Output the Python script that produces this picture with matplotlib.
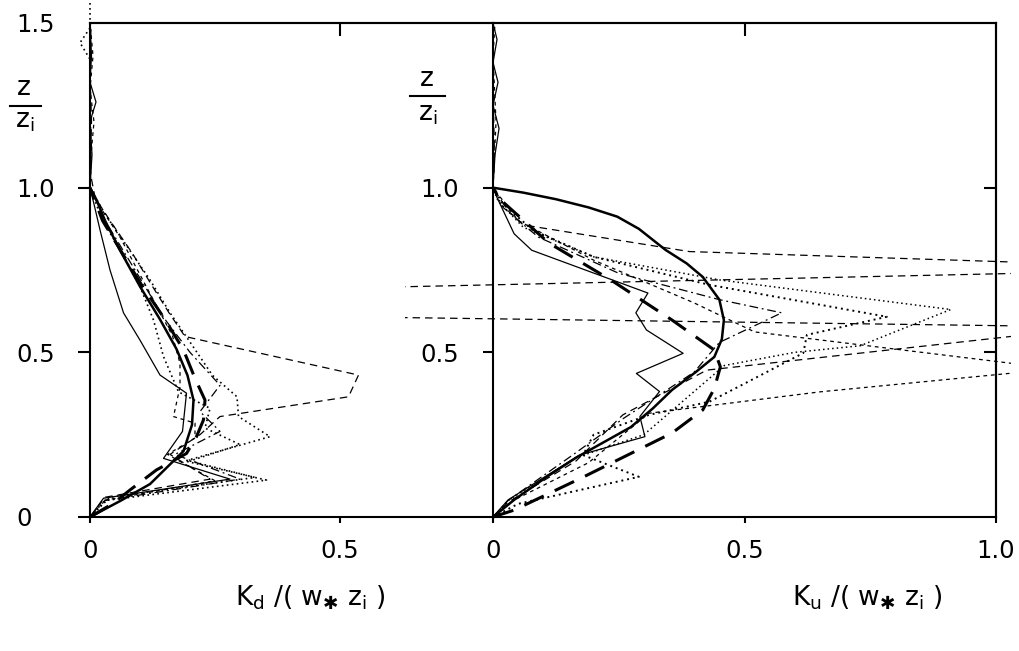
import matplotlib
matplotlib.use("Agg")
import matplotlib.pyplot as plt
from matplotlib.patches import Rectangle
from matplotlib.lines import Line2D

# ---- left panel: K_d / (w* z_i) profiles ----
kd_model_z = [0, 0.05, 0.1, 0.2, 0.28, 0.355, 0.43, 0.51, 0.6, 0.7, 0.81, 0.9, 0.963, 1.0]
kd_model_x = [0, 0.062, 0.12, 0.187, 0.204, 0.207, 0.195, 0.173, 0.14, 0.1, 0.06, 0.03, 0.013, 0]

kd_model2_z = [0, 0.042, 0.082, 0.143, 0.193, 0.244, 0.295, 0.355, 0.421, 0.507, 0.6, 0.7, 0.8, 0.9, 1.0]
kd_model2_x = [0, 0.047, 0.08, 0.133, 0.193, 0.213, 0.227, 0.23, 0.21, 0.187, 0.15, 0.105, 0.065, 0.025, 0]

kd_solid_z = [0, 0.057, 0.115, 0.178, 0.26, 0.376, 0.431, 0.537, 0.62, 0.75, 0.872, 0.95, 1.0, 1.1, 1.2, 1.26, 1.32, 1.4, 1.5]
kd_solid_x = [0, 0.027, 0.28, 0.147, 0.185, 0.193, 0.14, 0.1, 0.067, 0.04, 0.02, 0.008, 0, 0.004, 0, 0.012, 0, 0.003, 0]

kd_dash1_z = [0, 0.06, 0.115, 0.19, 0.25, 0.305, 0.365, 0.431, 0.548, 0.62, 0.7, 0.8, 0.9, 0.97, 1.05, 1.2, 1.35, 1.5]
kd_dash1_x = [0, 0.03, 0.24, 0.16, 0.22, 0.26, 0.517, 0.537, 0.19, 0.158, 0.125, 0.085, 0.04, 0.01, 0, 0.003, 0, 0.002]

kd_dash2_z = [0, 0.05, 0.11, 0.19, 0.24, 0.285, 0.305, 0.395, 0.467, 0.55, 0.65, 0.75, 0.85, 0.93, 1.0, 1.1, 1.2, 1.3, 1.4, 1.5]
kd_dash2_x = [0, 0.025, 0.25, 0.155, 0.21, 0.21, 0.167, 0.18, 0.18, 0.165, 0.13, 0.095, 0.06, 0.025, 0, 0.002, 0.008, 0, 0.006, 0]

kd_dot1_z = [0, 0.05, 0.112, 0.17, 0.244, 0.305, 0.365, 0.43, 0.52, 0.62, 0.72, 0.82, 0.92, 1.0, 1.1, 1.25, 1.39, 1.44, 1.485, 1.57]
kd_dot1_x = [0, 0.03, 0.353, 0.19, 0.36, 0.297, 0.294, 0.245, 0.205, 0.16, 0.12, 0.075, 0.03, 0, 0.002, 0, 0, -0.02, 0, 0]

kd_dot2_z = [0, 0.06, 0.12, 0.17, 0.22, 0.27, 0.33, 0.38, 0.487, 0.598, 0.7, 0.8, 0.9, 1.0]
kd_dot2_x = [0, 0.04, 0.33, 0.2, 0.3, 0.23, 0.24, 0.177, 0.147, 0.127, 0.1, 0.065, 0.025, 0]

kd_dashdot_z = [0, 0.05, 0.115, 0.19, 0.26, 0.32, 0.4, 0.5, 0.6, 0.7, 0.8, 0.9, 1.0]
kd_dashdot_x = [0, 0.03, 0.3, 0.17, 0.26, 0.22, 0.26, 0.2, 0.15, 0.11, 0.07, 0.03, 0]

# ---- right panel: K_u / (w* z_i) profiles ----
ku_model_z = [0, 0.052, 0.12, 0.18, 0.273, 0.33, 0.386, 0.44, 0.486, 0.54, 0.598, 0.66, 0.729,
              0.77, 0.811, 0.875, 0.912, 0.94, 0.965, 0.985, 1.0]
ku_model_x = [0, 0.042, 0.105, 0.165, 0.274, 0.318, 0.356, 0.403, 0.44, 0.455, 0.459, 0.45, 0.417,
              0.385, 0.343, 0.29, 0.247, 0.19, 0.125, 0.06, 0]

ku_model2_z = [0, 0.021, 0.121, 0.255, 0.325, 0.39, 0.456, 0.507, 0.598, 0.72, 0.832, 0.963, 1.0]
ku_model2_x = [0, 0.042, 0.179, 0.356, 0.417, 0.44, 0.452, 0.44, 0.356, 0.234, 0.111, 0.015, 0]

ku_solid_z = [0, 0.052, 0.188, 0.244, 0.305, 0.381, 0.436, 0.497, 0.568, 0.62, 0.68, 0.81, 0.86, 0.97, 1.0, 1.1, 1.18, 1.25, 1.32, 1.38, 1.45, 1.5]
ku_solid_x = [0, 0.03, 0.172, 0.302, 0.292, 0.331, 0.285, 0.378, 0.305, 0.284, 0.308, 0.077, 0.042, 0.008, 0, 0.004, 0.012, 0, 0.01, 0, 0.008, 0]

ku_dash1_z = [0, 0.045, 0.17, 0.31, 0.446, 0.577, 0.608, 0.695, 0.745, 0.766, 0.806, 0.887, 0.93, 1.0, 1.1, 1.3, 1.5]
ku_dash1_x = [0, 0.03, 0.165, 0.258, 0.425, 1.2, -0.3, -0.3, 1.2, 1.2, 0.39, 0.06, 0.03, 0, 0.003, 0, 0]

ku_dash2_z = [0, 0.05, 0.165, 0.315, 0.38, 0.45, 0.562, 0.65, 0.78, 0.9, 1.0, 1.2, 1.4, 1.5]
ku_dash2_x = [0, 0.04, 0.19, 0.31, 0.65, 1.12, 0.52, 0.40, 0.2, 0.05, 0, 0.006, 0, 0.004]

ku_dot1_z = [0, 0.04, 0.122, 0.188, 0.25, 0.31, 0.35, 0.405, 0.498, 0.553, 0.608, 0.705, 0.79, 0.87, 0.95, 1.0]
ku_dot1_x = [0, 0.05, 0.29, 0.179, 0.2, 0.31, 0.43, 0.5, 0.617, 0.624, 0.783, 0.43, 0.2, 0.08, 0.02, 0]

ku_dot2_z = [0, 0.05, 0.18, 0.25, 0.46, 0.5, 0.52, 0.63, 0.72, 0.79, 0.88, 0.96, 1.0]
ku_dot2_x = [0, 0.03, 0.165, 0.3, 0.46, 0.6, 0.73, 0.91, 0.45, 0.2, 0.06, 0.01, 0]

ku_dashdot_z = [0, 0.05, 0.19, 0.3, 0.44, 0.53, 0.62, 0.66, 0.74, 0.85, 0.94, 1.0]
ku_dashdot_x = [0, 0.03, 0.16, 0.26, 0.40, 0.45, 0.574, 0.45, 0.25, 0.09, 0.02, 0]

left_xticks = [0, 0.5]
left_xlabels = ["0", "0.5"]
left_yticks = [0, 0.5, 1.0, 1.5]
left_ylabels = ["0", "0.5", "1.0", "1.5"]
right_xticks = [0, 0.5, 1.0]
right_xlabels = ["0", "0.5", "1.0"]
right_yticks = [0.5, 1.0]
right_ylabels = ["0.5", "1.0"]

W, H = 1019, 651
fig = plt.figure(figsize=(W / 100, H / 100), dpi=100)

def fx(px):
    return px / W

def fy(py):
    return 1 - py / H

ax1 = fig.add_axes([fx(90), fy(517), (493 - 90) / W, (517 - 23) / H])
ax2 = fig.add_axes([fx(493), fy(517), (996 - 493) / W, (517 - 23) / H])

thin = 0.9
dash = (0, (6, 4))
short = (0, (3, 3))
dot = (0, (1, 2))
dashdot = (0, (7, 3, 1.5, 3))

# left panel
ax1.plot(kd_solid_x, kd_solid_z, color="k", lw=thin, clip_on=False)
ax1.plot(kd_dash1_x, kd_dash1_z, color="k", lw=thin, ls=dash, clip_on=False)
ax1.plot(kd_dash2_x, kd_dash2_z, color="k", lw=thin, ls=short, clip_on=False)
ax1.plot(kd_dot1_x, kd_dot1_z, color="k", lw=1.2, ls=dot, clip_on=False)
ax1.plot(kd_dot2_x, kd_dot2_z, color="k", lw=1.2, ls=dot, clip_on=False)
ax1.plot(kd_dashdot_x, kd_dashdot_z, color="k", lw=thin, ls=dashdot, clip_on=False)
ax1.plot(kd_model_x, kd_model_z, color="k", lw=1.8, clip_on=False)
ax1.plot(kd_model2_x, kd_model2_z, color="k", lw=2.2, ls=(0, (7, 4)), clip_on=False)

# right panel (profiles run past the frame on both sides)
clip = Rectangle((-0.175, -0.01), 1.205, 1.56, transform=ax2.transData)
for xs, zs, st, lw in [
    (ku_solid_x, ku_solid_z, "-", thin),
    (ku_dash1_x, ku_dash1_z, dash, thin),
    (ku_dash2_x, ku_dash2_z, short, thin),
    (ku_dot1_x, ku_dot1_z, dot, 1.4),
    (ku_dot2_x, ku_dot2_z, dot, 1.1),
    (ku_dashdot_x, ku_dashdot_z, dashdot, thin),
    (ku_model_x, ku_model_z, "-", 1.8),
    (ku_model2_x, ku_model2_z, (0, (7, 4)), 2.2),
]:
    ln, = ax2.plot(xs, zs, color="k", lw=lw, ls=st)
    ln.set_clip_path(clip)

ax1.set_xlim(0, (493 - 90) / 500)
ax1.set_ylim(0, 1.5)
ax2.set_xlim(0, 1.0)
ax2.set_ylim(0, 1.5)

fs = 17.5
for ax in (ax1, ax2):
    for s in ax.spines.values():
        s.set_linewidth(1.5)
ax1.spines["right"].set_visible(False)

ax1.set_xticks(left_xticks, left_xlabels, fontsize=fs)
ax1.set_yticks(left_yticks, left_ylabels, fontsize=fs)
ax1.tick_params(axis="y", direction="out", length=9, width=1.5, pad=44)
ax1.tick_params(axis="x", direction="out", length=4, width=1.5, pad=12)
ax1.yaxis.get_major_ticks()[3].tick1line.set_visible(False)
for lab in ax1.get_yticklabels():
    lab.set_horizontalalignment("left")

ax2.set_xticks(right_xticks, right_xlabels, fontsize=fs)
ax2.set_yticks(right_yticks, right_ylabels, fontsize=fs)
ax2.tick_params(axis="y", direction="out", length=7, width=1.5, pad=45)
ax2.tick_params(axis="x", direction="out", length=4, width=1.5, pad=12)
for lab in ax2.get_yticklabels():
    lab.set_horizontalalignment("left")

for ax in (ax1, ax2):
    top = ax.secondary_xaxis("top")
    top.set_xticks([0.5])
    top.tick_params(direction="in", length=9, width=1.5, labeltop=False)
    top.spines["top"].set_linewidth(1.5)
right = ax2.secondary_yaxis("right")
right.set_yticks([0.5, 1.0])
right.tick_params(direction="in", length=9, width=1.5, labelright=False)
right.spines["right"].set_linewidth(1.5)

# z / z_i fraction labels
zfs = 19
for xc, yt, yb, x0, x1, yl in [(24, 88, 121, 10, 41, 106), (427, 79, 114, 410, 445, 96)]:
    fig.text(fx(xc), fy(yt), "z", fontsize=zfs, ha="center", va="center")
    fig.text(fx(xc - 9), fy(yb), r"z$_\mathregular{i}$", fontsize=zfs, ha="left", va="center")
    fig.add_artist(Line2D([fx(x0), fx(x1)], [fy(yl), fy(yl)], color="k", lw=1.5))

xfs = 19
fig.text(fx(310), fy(598), "K$_\\mathregular{d}$ /( w$_{\u2731}$ z$_\\mathregular{i}$ )",
         fontsize=xfs, ha="center", va="center")
fig.text(fx(867), fy(598), "K$_\\mathregular{u}$ /( w$_{\u2731}$ z$_\\mathregular{i}$ )",
         fontsize=xfs, ha="center", va="center")

fig.savefig("out.png", dpi=100)
